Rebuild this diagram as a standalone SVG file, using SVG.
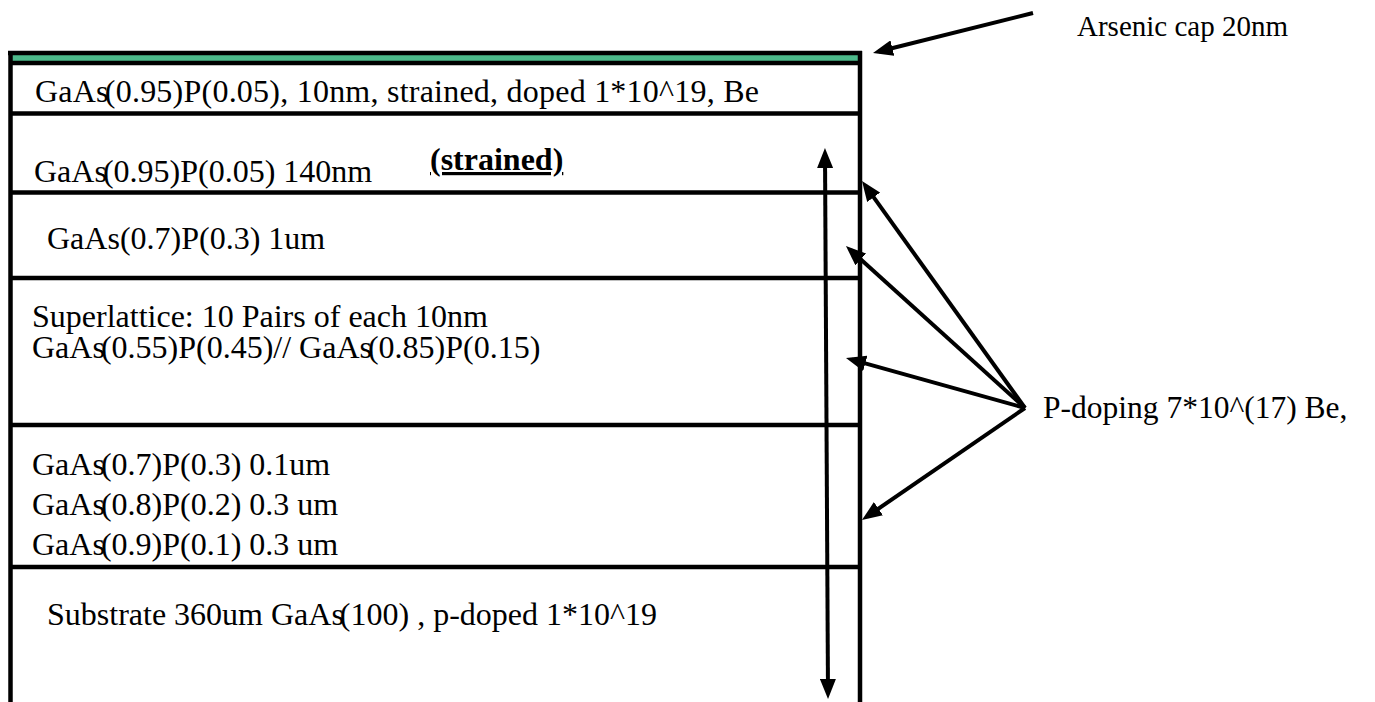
<svg xmlns="http://www.w3.org/2000/svg" width="1375" height="702" viewBox="0 0 1375 702">
  <defs>
    <marker id="head" viewBox="0 0 20 16" refX="14" refY="8" markerWidth="20" markerHeight="16" markerUnits="userSpaceOnUse" orient="auto-start-reverse">
      <path d="M0,0 L20,8 L0,16 z" fill="#000"/>
    </marker>
  </defs>
  <style>
    text { font-family: "Liberation Serif", "Times New Roman", serif; fill: #000; }
    .t { font-size: 32px; }
    .a { font-size: 29px; }
    .d { font-size: 31.5px; }
    .b { font-weight: bold; text-decoration: underline; }
    .edge { stroke: #000; stroke-width: 4.5; fill: none; }
    .arrow { stroke: #000; stroke-width: 4; fill: none; marker-end: url(#head); }
    .both { marker-start: url(#head); }
  </style>
  <rect width="1375" height="702" fill="#fff"/>

  <!-- layer stack -->
  <g id="cap">
    <rect x="12" y="55" width="846" height="6" fill="#4CB98A"/>
    <line class="edge" x1="8" y1="53" x2="862" y2="53"/>
    <line class="edge" x1="10" y1="63" x2="860" y2="63"/>
  </g>
  <g id="stack-frame">
    <line class="edge" x1="10.5" y1="51" x2="10.5" y2="710"/>
    <line class="edge" x1="860" y1="51" x2="860" y2="710"/>
  </g>
  <g id="layer-top-strained">
    <text class="t" x="35" y="102" textLength="724" lengthAdjust="spacing">GaAs<tspan dx="-4">(0.95)P(0.05), 10nm, strained, doped 1*10^19, Be</tspan></text>
    <line class="edge" x1="10" y1="113.5" x2="860" y2="113.5"/>
  </g>
  <g id="layer-140nm">
    <text class="t" x="34" y="182">GaAs<tspan dx="-4">(0.95)P(0.05) 140nm</tspan></text>
    <text class="t b" x="430" y="170">(strained)</text>
    <line class="edge" x1="10" y1="192.5" x2="860" y2="192.5"/>
  </g>
  <g id="layer-1um">
    <text class="t" x="47" y="249">GaAs(0.7)P(0.3) 1um</text>
    <line class="edge" x1="10" y1="278" x2="860" y2="278"/>
  </g>
  <g id="layer-superlattice">
    <text class="t" x="32" y="327">Superlattice: 10 Pairs of each 10nm</text>
    <text class="t" x="32" y="358">GaAs<tspan dx="-4">(0.55)P(0.45)// GaAs</tspan><tspan dx="-4">(0.85)P(0.15)</tspan></text>
    <line class="edge" x1="10" y1="425" x2="860" y2="425"/>
  </g>
  <g id="layer-graded">
    <text class="t" x="32" y="475">GaAs<tspan dx="-4">(0.7)P(0.3) 0.1um</tspan></text>
    <text class="t" x="32" y="515">GaAs<tspan dx="-4">(0.8)P(0.2) 0.3 um</tspan></text>
    <text class="t" x="32" y="555">GaAs<tspan dx="-4">(0.9)P(0.1) 0.3 um</tspan></text>
    <line class="edge" x1="10" y1="567" x2="860" y2="567"/>
  </g>
  <g id="layer-substrate">
    <text class="t" x="47" y="625">Substrate 360um GaAs<tspan dx="-4">(100) , p-doped 1*10^19</tspan></text>
  </g>

  <!-- annotations -->
  <g id="label-arsenic">
    <text class="a" x="1077" y="36">Arsenic cap 20nm</text>
  </g>
  <g id="label-doping">
    <text class="d" x="1043" y="418">P-doping 7*10^(17) Be,</text>
  </g>

  <!-- connectors -->
  <g id="connectors">
    <line class="arrow" x1="1033" y1="13" x2="878.8" y2="51.5"/>
    <line class="arrow both" x1="825" y1="154" x2="828" y2="693"/>
    <line class="arrow" x1="1025" y1="408" x2="865.5" y2="185.9"/>
    <line class="arrow" x1="1025" y1="408" x2="850.4" y2="250"/>
    <line class="arrow" x1="1025" y1="408" x2="851.8" y2="359.6"/>
    <line class="arrow" x1="1025" y1="408" x2="866.9" y2="516.6"/>
  </g>
</svg>
